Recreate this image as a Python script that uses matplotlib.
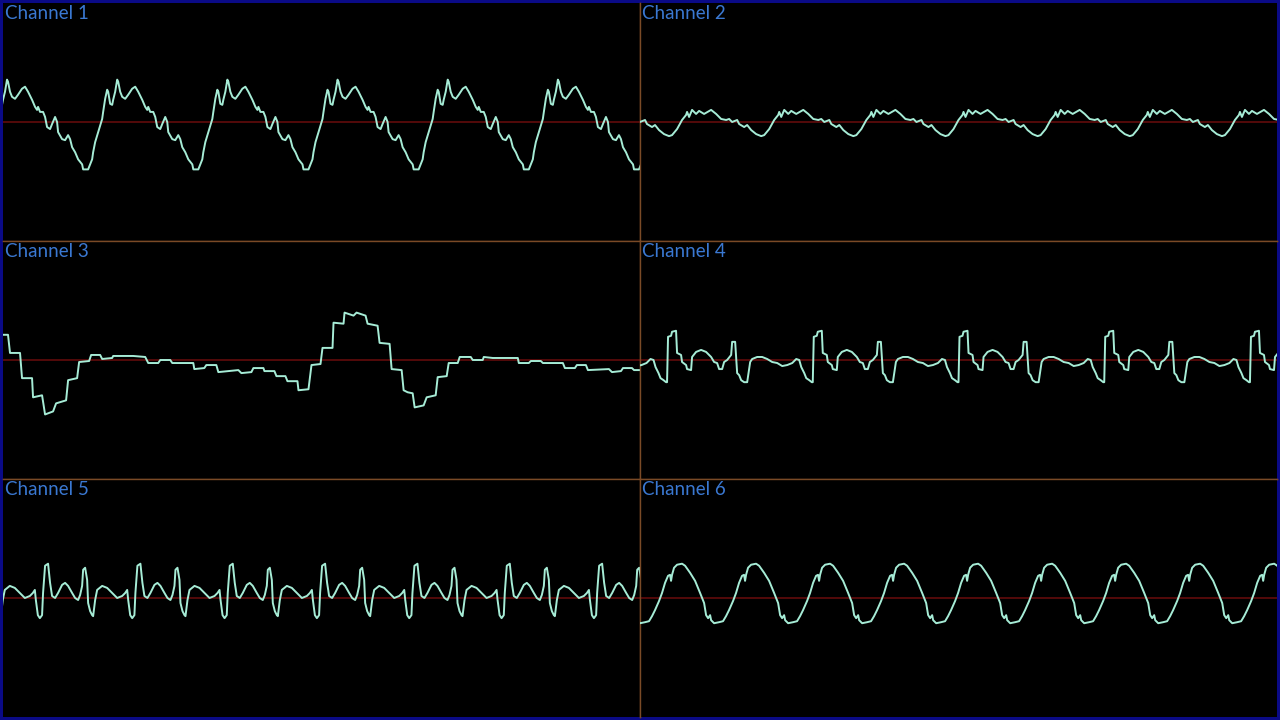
import numpy as np
import matplotlib.pyplot as plt

# Oscilloscope view, six channels. Levels are in px above the red centre line,
# x is in screen px. Periodic channels: one period.

names = ["Channel 1", "Channel 2", "Channel 3", "Channel 4", "Channel 5", "Channel 6"]

# channel 1 - saw-ish wave with ripple
ch1_t = [0, 5, 9, 10, 12, 15, 19, 20, 22, 24, 25, 27, 29, 30, 32, 34, 35, 37, 39, 42,
         45, 49, 52, 55, 59, 62, 64, 65, 67, 70, 72, 74, 77, 79, 82, 84, 85, 89, 92, 95,
         97, 99, 102, 105, 109]
ch1_v = [-47, -47, -37, -30, -20, -10, 3, 10, 23, 32, 30, 18, 17, 22, 30, 42, 40, 30, 25, 23,
         27, 33, 35, 30, 22, 15, 12, 15, 10, 10, 5, -5, -7, -2, 5, 0, -10, -17, -18, -13,
         -17, -25, -30, -37, -42]
ch1_start, ch1_period = 83, 110

# channel 2 - small wobbly wave
ch2_t = [0, 3, 8, 13, 17, 18, 20, 23, 27, 30, 35, 42, 47, 52, 57, 60, 63, 68, 70, 75, 78, 82, 87]
ch2_v = [-14, -13, -7, 2, 7, 10, 5, 12, 8, 11, 8, 12, 8, 3, 2, 3, 0, 2, -2, -5, -3, -8, -12]
ch2_start, ch2_period = 670, 92

# channel 3 - stepped, not periodic
ch3_x = [3, 8, 10, 20, 22, 32, 33, 42, 45, 53, 56, 66, 68, 77, 79, 89, 91, 100, 102, 112,
         113, 133, 145, 148, 158, 160, 170, 172, 193, 194, 204, 206, 216, 218, 238, 241, 251, 253, 263, 264,
         274, 276, 285, 287, 297, 298, 308, 311, 320, 322, 332, 333, 343, 344, 353, 356, 365, 367, 377, 379,
         389, 391, 401, 403, 407, 412, 414, 423, 426, 435, 437, 446, 448, 457, 459, 470, 472, 482, 483, 492,
         517, 518, 528, 530, 540, 542, 562, 564, 574, 576, 585, 587, 608, 611, 620, 622, 631, 633, 640]
ch3_v = [25, 25, 7, 7, -18, -18, -37, -35, -54, -51, -43, -40, -20, -18, -2, -1, 5, 5, 1, 2,
         4, 4, 3, -3, -3, 0, 0, -3, -3, -9, -8, -5, -5, -12, -10, -13, -12, -8, -8, -11,
         -11, -16, -16, -21, -21, -30, -29, -5, -4, 12, 12, 37, 36, 47, 44, 47, 44, 36, 34, 17,
         16, -9, -10, -30, -32, -33, -47, -45, -37, -35, -17, -16, -3, -3, 3, 3, 0, 0, 3, 2,
         2, -3, -3, -1, -1, -3, -3, -8, -8, -5, -5, -10, -9, -12, -11, -8, -8, -10, -10]

# channel 4 - spiky pulse pairs
ch4_t = [0, 1, 2, 5, 6, 10, 11, 15, 16, 20, 21, 25, 26, 30, 35, 40, 45, 48, 51, 53,
         56, 58, 61, 65, 66, 69, 70, 71, 73, 75, 78, 81, 84, 86, 91, 96, 101, 106, 111, 116,
         121, 126, 130, 133, 135, 138, 140, 143]
ch4_v = [-22, -22, 23, 24, 28, 29, 7, 5, -2, -5, -9, -10, 3, 8, 10, 8, 3, -2, -3, -9,
         -9, -2, 0, 5, 18, 18, 3, -13, -15, -20, -22, -22, -2, 1, 3, 3, 1, -2, -3, -6,
         -5, -3, 1, 0, -7, -13, -18, -20]
ch4_start, ch4_period = 667, 145.5

# channel 5 - ECG-like double spikes
ch5_t = [0, 1, 3, 6, 8, 10, 13, 16, 20, 23, 26, 30, 33, 36, 38, 40, 41, 43, 45, 46,
         48, 50, 51, 53, 55, 60, 65, 70, 75, 80, 83, 85, 86, 88, 90]
ch5_v = [-17, 5, 32, 34, 15, 2, 0, 5, 13, 15, 12, 5, 0, -2, 3, 12, 28, 30, 18, -5,
         -13, -17, -18, -2, 8, 12, 10, 5, 0, 2, 5, 8, -2, -17, -20]
ch5_start, ch5_period = 42, 92.2

# channel 6 - rounded sine with a small notch
ch6_t = [0, 4, 7, 10, 14, 17, 20, 23, 25, 26, 27, 29, 32, 37, 40, 45, 50, 55, 59, 61,
         63, 65, 66, 69]
ch6_v = [-24, -23, -18, -12, -3, 5, 15, 22, 23, 17, 23, 30, 33, 34, 32, 25, 17, 5, -5, -17,
         -20, -17, -22, -25]
ch6_start, ch6_period = 646, 73.9


def tile(t, v, start, period, x0, x1):
    t = np.asarray(t, float)
    v = np.asarray(v, float)
    k0 = int(np.floor((x0 - start) / period)) - 1
    k1 = int(np.ceil((x1 - start) / period)) + 1
    ks = np.arange(k0, k1)
    x = (start + ks[:, None] * period + t[None, :]).ravel()
    y = np.tile(v, len(ks))
    return x, y


xl_left = (3, 639)
xl_right = (641, 1277)

traces = [
    tile(ch1_t, ch1_v, ch1_start, ch1_period, *xl_left),
    tile(ch2_t, ch2_v, ch2_start, ch2_period, *xl_right),
    (np.array(ch3_x), np.array(ch3_v)),
    tile(ch4_t, ch4_v, ch4_start, ch4_period, *xl_right),
    tile(ch5_t, ch5_v, ch5_start, ch5_period, *xl_left),
    tile(ch6_t, ch6_v, ch6_start, ch6_period, *xl_right),
]

border = "#0a0a86"
divider = "#7a4a26"
centre = "#6a0c0c"
trace_col = "#a6ecd6"
label_col = "#3a78d2"

fig = plt.figure(figsize=(12.8, 7.2), dpi=100, facecolor=border)
axes = fig.subplots(3, 2, gridspec_kw=dict(wspace=0, hspace=0,
                                           left=3/1280, right=1-3/1280,
                                           bottom=3/720, top=1-3/720))

for i, ax in enumerate(axes.flat):
    row, col = divmod(i, 2)
    ax.set_facecolor("black")
    ax.set_xticks([])
    ax.set_yticks([])
    for s in ax.spines.values():
        s.set_visible(False)
    # internal dividers only
    if col == 0:
        ax.spines["right"].set_visible(True)
    else:
        ax.spines["left"].set_visible(True)
    if row > 0:
        ax.spines["top"].set_visible(True)
    if row < 2:
        ax.spines["bottom"].set_visible(True)
    for s in ax.spines.values():
        s.set_color(divider)
        s.set_linewidth(1.0)

    ax.set_xlim(xl_left if col == 0 else xl_right)
    ax.set_ylim(-118, 118)
    ax.axhline(0, color=centre, lw=1.1, zorder=1)

    x, y = traces[i]
    ax.plot(x, y, color=trace_col, lw=1.4, zorder=3, solid_joinstyle="round")

    ax.text(0.003, 0.99, names[i], transform=ax.transAxes, ha="left", va="top",
            color=label_col, fontsize=13.5, family="Lato")

fig.savefig("out.png", dpi=100, facecolor=fig.get_facecolor())
